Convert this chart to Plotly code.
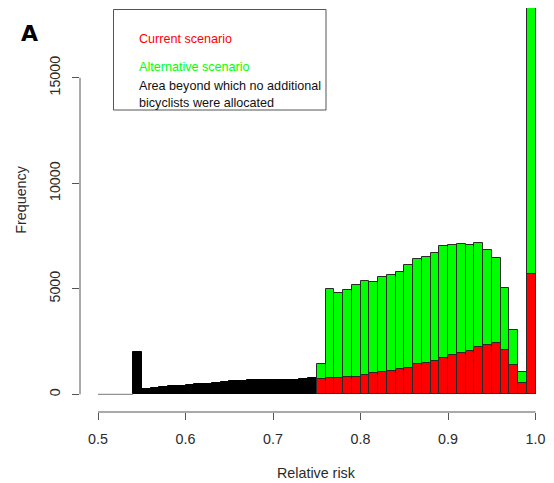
import plotly.graph_objects as go

# ---- data ----
bin_width = 0.01
black_left = [0.50, 0.51, 0.52, 0.53, 0.54, 0.55, 0.56, 0.57, 0.58, 0.59, 0.60,
              0.61, 0.62, 0.63, 0.64, 0.65, 0.66, 0.67, 0.68, 0.69, 0.70,
              0.71, 0.72, 0.73, 0.74]
black_counts = [0, 0, 0, 0, 1990, 237, 284, 332, 370, 403, 431,
                474, 507, 536, 569, 607, 654, 678, 701, 687, 701,
                701, 678, 749, 770]

scen_left = [0.75, 0.76, 0.77, 0.78, 0.79, 0.80, 0.81, 0.82, 0.83, 0.84,
             0.85, 0.86, 0.87, 0.88, 0.89, 0.90, 0.91, 0.92, 0.93, 0.94,
             0.95, 0.96, 0.97, 0.98, 0.99]
alternative = [1422, 4990, 4786, 4943, 5165, 5369, 5322, 5545, 5639, 5811,
               6128, 6412, 6500, 6711, 7028, 7075, 7109, 7061, 7156, 6853,
               6445, 5023, 3033, 1071, 18341]
current = [725, 773, 773, 820, 820, 915, 1009, 1057, 1118, 1213,
           1261, 1422, 1490, 1592, 1735, 1862, 1957, 2045, 2241, 2336,
           2417, 2085, 1389, 521, 5690]

x_ticks = [0.5, 0.6, 0.7, 0.8, 0.9, 1.0]
x_tick_text = ["0.5", "0.6", "0.7", "0.8", "0.9", "1.0"]
y_ticks = [0, 5000, 10000, 15000]
y_tick_text = ["0", "5000", "10000", "15000"]

legend_lines = [("Current scenario", "#ff0000"),
                ("Alternative scenario", "#00ff00"),
                ("Area beyond which no additional", "#111111"),
                ("bicyclists were allocated", "#111111")]

FONT = "Liberation Sans, Arial, sans-serif"
AXIS_COLOR = "#555555"
TEXT_COLOR = "#2a2a2a"

def centers(lefts):
    return [l + bin_width / 2 for l in lefts]

fig = go.Figure()

# zero-count bins drawn as a baseline (like R's hist)
zero_left = [l for l, c in zip(black_left, black_counts) if c == 0]
zx = []
for l in zero_left:
    zx += [l, l + bin_width]
fig.add_trace(go.Scatter(x=[min(zx), max(zx)], y=[0, 0], mode="lines",
                         line=dict(color="#777777", width=1),
                         hoverinfo="skip", showlegend=False))

nz = [(l, c) for l, c in zip(black_left, black_counts) if c > 0]
fig.add_trace(go.Bar(x=centers([l for l, _ in nz]), y=[c for _, c in nz],
                     width=bin_width, marker=dict(color="#000000",
                     line=dict(color="#000000", width=1)), showlegend=False))
fig.add_trace(go.Bar(x=centers(scen_left), y=alternative, width=bin_width,
                     marker=dict(color="#00ff00", line=dict(color="#2a2a2a", width=1)),
                     cliponaxis=False, showlegend=False))
fig.add_trace(go.Bar(x=centers(scen_left), y=current, width=bin_width,
                     marker=dict(color="#ff0000", line=dict(color="#2a2a2a", width=1)),
                     showlegend=False))

# The page body adds an 8px offset; work in reference-pixel coords and shift.
OFF = 8
W, H = 554 - OFF, 483 - OFF
plot_left_ref, plot_right_ref, plot_top_ref, plot_bottom_ref = 80, 553, 8, 412
ml = plot_left_ref - OFF
mr = W - (plot_right_ref - OFF)
mt = plot_top_ref - OFF
mb = H - (plot_bottom_ref - OFF)
pw, ph = W - ml - mr, H - mt - mb

px_per_x = 875.0
x05_ref = 98.0
xr = [0.5 - (x05_ref - plot_left_ref) / px_per_x,
      0.5 + (plot_right_ref - x05_ref) / px_per_x]
units_per_px = 5000 / 105.5
y0_ref = 394.3  # reference pixel of y=0
yr = [-(plot_bottom_ref - y0_ref) * units_per_px, (y0_ref - plot_top_ref) * units_per_px]

def px2paper_x(px_ref):
    return (px_ref - OFF - ml) / pw

def px2paper_y(py_ref):
    return 1 - (py_ref - OFF - mt) / ph

shapes = [
    dict(type="line", xref="x", yref="paper", x0=x_ticks[0], x1=x_ticks[-1],
         y0=0, y1=0, line=dict(color=AXIS_COLOR, width=1)),
    dict(type="line", xref="paper", yref="y", x0=0, x1=0,
         y0=y_ticks[0], y1=y_ticks[-1], line=dict(color=AXIS_COLOR, width=1)),
    dict(type="rect", xref="paper", yref="paper",
         x0=px2paper_x(113.5), x1=px2paper_x(326), y0=px2paper_y(110), y1=px2paper_y(9.5),
         line=dict(color="#555555", width=1), fillcolor="rgba(0,0,0,0)", layer="above"),
]

annotations = []
legend_y = [39, 67, 86, 102.5]
for (txt, col), yy in zip(legend_lines, legend_y):
    annotations.append(dict(text=txt, xref="paper", yref="paper",
                            x=px2paper_x(136.5), y=px2paper_y(yy),
                            xanchor="left", yanchor="middle", showarrow=False,
                            font=dict(family=FONT, size=12.6, color=col)))
annotations.append(dict(text="<b>A</b>", xref="paper", yref="paper",
                        x=px2paper_x(29), y=px2paper_y(33), xanchor="center",
                        yanchor="middle", showarrow=False,
                        font=dict(family="DejaVu Sans, sans-serif", size=22, color="#000000")))
annotations.append(dict(text="Relative risk", xref="paper", yref="paper",
                        x=px2paper_x(316.8), y=px2paper_y(473), xanchor="center",
                        yanchor="middle", showarrow=False,
                        font=dict(family=FONT, size=14.3, color=TEXT_COLOR)))
annotations.append(dict(text="Frequency", xref="paper", yref="paper",
                        x=px2paper_x(20.7), y=px2paper_y(200), xanchor="center",
                        yanchor="middle", showarrow=False, textangle=-90,
                        font=dict(family=FONT, size=14.3, color=TEXT_COLOR)))

fig.update_layout(
    width=W, height=H,
    margin=dict(l=ml, r=mr, t=mt, b=mb, pad=0),
    paper_bgcolor="white", plot_bgcolor="white",
    barmode="overlay", bargap=0,
    showlegend=False,
    shapes=shapes, annotations=annotations,
    xaxis=dict(range=xr, showgrid=False, zeroline=False, showline=False,
               tickmode="array", tickvals=x_ticks, ticktext=x_tick_text,
               ticks="outside", ticklen=7, tickcolor=AXIS_COLOR, tickwidth=1,
               ticklabelstandoff=7,
               tickfont=dict(family=FONT, size=14.3, color=TEXT_COLOR)),
    yaxis=dict(range=yr, showgrid=False, zeroline=False, showline=False,
               tickmode="array", tickvals=y_ticks, ticktext=y_tick_text,
               ticks="outside", ticklen=7, tickcolor=AXIS_COLOR, tickwidth=1,
               tickangle=-90, ticklabelstandoff=6,
               tickfont=dict(family=FONT, size=14.3, color=TEXT_COLOR)),
)

fig.write_html("out.html")
